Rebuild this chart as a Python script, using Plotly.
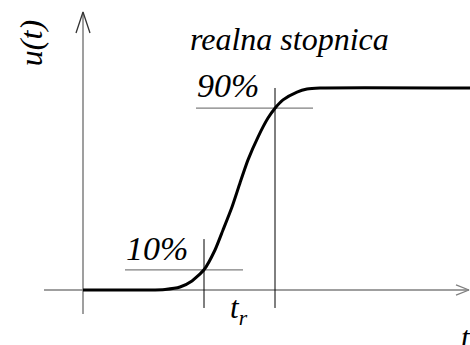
import plotly.graph_objects as go

# step response curve (time, normalized response)
t_curve = [0.00, 1.34, 1.64, 1.94, 2.18, 2.42, 2.64, 2.80, 2.98, 3.14, 3.30, 3.50,
           3.70, 3.84, 4.00, 4.28, 4.48, 4.74, 7.74]
u_curve = [0.000, 0.000, 0.003, 0.015, 0.045, 0.100, 0.198, 0.297, 0.411, 0.530,
           0.644, 0.757, 0.851, 0.900, 0.941, 0.980, 0.995, 1.000, 1.000]

# levels and crossing times
level_lo = 0.10
level_hi = 0.90
t_lo = 2.42
t_hi = 3.84

# axes extents
x_axis = [-0.78, 7.72]
y_axis = [-0.119, 1.376]
x_range = [-1.66, 7.74]
y_range = [-0.2723, 1.4356]

lo_hline = [0.84, 3.20]
hi_hline = [2.26, 4.60]
vline_bottom = -0.089
lo_vline_top = 0.252
hi_vline_top = 1.0

labels = ["10%", "90%", "realna stopnica"]

FONT = "Liberation Serif"
GRAY = "#7f7f7f"

fig = go.Figure()

def line(xs, ys, color, width):
    fig.add_trace(go.Scatter(x=xs, y=ys, mode="lines", hoverinfo="skip",
                             line=dict(color=color, width=width), showlegend=False))

# axes
line(x_axis, [0, 0], GRAY, 1.5)
line([0, 0], y_axis, GRAY, 1.5)
# arrowheads
line([7.46, x_axis[1], 7.46], [0.025, 0, -0.025], GRAY, 1.3)
line([-0.14, 0, 0.14], [1.272, y_axis[1], 1.272], "#333333", 1.3)

# reference lines
line(lo_hline, [level_lo, level_lo], GRAY, 1.3)
line(hi_hline, [level_hi, level_hi], GRAY, 1.3)
line([t_lo, t_lo], [vline_bottom, lo_vline_top], "black", 1)
line([t_hi, t_hi], [vline_bottom, hi_vline_top], "black", 1)

# curve
fig.add_trace(go.Scatter(x=t_curve, y=u_curve, mode="lines", hoverinfo="skip",
                         line=dict(color="black", width=3, shape="spline", smoothing=0.6),
                         showlegend=False))

def txt(x, y, s, size, angle=0, xanchor="center", yanchor="middle"):
    fig.add_annotation(x=x, y=y, xref="x", yref="y", text=s, showarrow=False,
                       textangle=angle, xanchor=xanchor, yanchor=yanchor,
                       font=dict(family=FONT, size=size, color="black", style="italic"))

txt(1.48, 0.205, labels[0], 34)
txt(2.90, 1.010, labels[1], 34)
txt(4.12, 1.245, labels[2], 32)
txt(-1.04, 1.222, "u(t)", 32, angle=-90)
txt(3.12, -0.100, "t<sub>r</sub>", 31)
txt(7.66, -0.235, "t", 31)

fig.update_layout(
    width=470, height=345, autosize=False,
    margin=dict(l=0, r=0, t=0, b=0),
    paper_bgcolor="white", plot_bgcolor="white",
    font=dict(family=FONT),
    xaxis=dict(range=x_range, visible=False, fixedrange=True),
    yaxis=dict(range=y_range, visible=False, fixedrange=True),
)

fig.write_html("out.html", config={"displayModeBar": False},
               post_script="document.body.style.margin='0';")
